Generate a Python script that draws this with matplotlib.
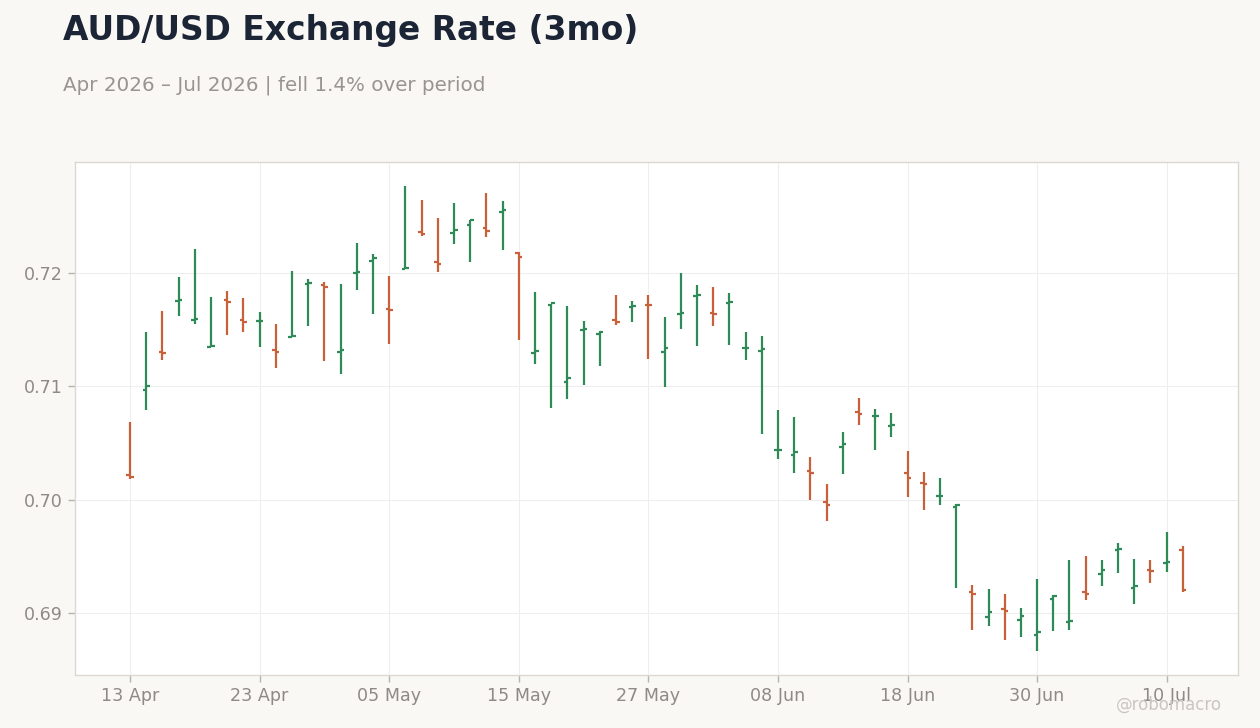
import numpy as np
import pandas as pd
from matplotlib import pyplot as plt

### data (AUD/USD daily OHLC)

dates = pd.bdate_range('2026-04-13', periods=66)

opens = [0.70214, 0.70966, 0.71307, 0.71753, 0.71583, 0.71348, 0.71759, 0.71583, 0.71574, 0.71319,
	0.71433, 0.71903, 0.71891, 0.71307, 0.72003, 0.72103, 0.71680, 0.72036, 0.72358, 0.72094,
	0.72349, 0.72423, 0.72394, 0.72540, 0.72176, 0.71292, 0.71715, 0.71034, 0.71501, 0.71460,
	0.71583, 0.71698, 0.71721, 0.71307, 0.71638, 0.71800, 0.71650, 0.71739, 0.71338, 0.71316,
	0.70436, 0.70395, 0.70254, 0.69982, 0.70466, 0.70776, 0.70736, 0.70652, 0.70236, 0.70147,
	0.70028, 0.69932, 0.69183, 0.68962, 0.69032, 0.68940, 0.68802, 0.69127, 0.68917, 0.69183,
	0.69342, 0.69555, 0.69218, 0.69375, 0.69444, 0.69558]
highs = [0.70687, 0.71480, 0.71668, 0.71968, 0.72214, 0.71791, 0.71844, 0.71783, 0.71659, 0.71554,
	0.72021, 0.71950, 0.71924, 0.71906, 0.72267, 0.72170, 0.71977, 0.72769, 0.72646, 0.72488,
	0.72620, 0.72470, 0.72708, 0.72637, 0.72188, 0.71836, 0.71730, 0.71712, 0.71580, 0.71492,
	0.71809, 0.71756, 0.71809, 0.71615, 0.72003, 0.71897, 0.71880, 0.71827, 0.71483, 0.71448,
	0.70791, 0.70729, 0.70375, 0.70136, 0.70596, 0.70897, 0.70799, 0.70764, 0.70428, 0.70242,
	0.70189, 0.69959, 0.69242, 0.69215, 0.69171, 0.69047, 0.69295, 0.69156, 0.69463, 0.69499,
	0.69463, 0.69614, 0.69472, 0.69463, 0.69711, 0.69587]
lows = [0.70185, 0.70790, 0.71231, 0.71618, 0.71548, 0.71345, 0.71451, 0.71477, 0.71345, 0.71160,
	0.71433, 0.71530, 0.71222, 0.71107, 0.71847, 0.71636, 0.71372, 0.72036, 0.72329, 0.72012,
	0.72258, 0.72100, 0.72320, 0.72206, 0.71413, 0.71201, 0.70808, 0.70887, 0.71016, 0.71178,
	0.71539, 0.71571, 0.71245, 0.70990, 0.71510, 0.71360, 0.71536, 0.71369, 0.71236, 0.70576,
	0.70357, 0.70236, 0.69997, 0.69811, 0.70227, 0.70661, 0.70440, 0.70555, 0.70024, 0.69909,
	0.69953, 0.69218, 0.68852, 0.68882, 0.68764, 0.68785, 0.68661, 0.68844, 0.68852, 0.69118,
	0.69236, 0.69348, 0.69077, 0.69263, 0.69360, 0.69183]
closes = [0.70203, 0.71001, 0.71295, 0.71762, 0.71592, 0.71354, 0.71742, 0.71565, 0.71580, 0.71301,
	0.71442, 0.71912, 0.71874, 0.71319, 0.72012, 0.72129, 0.71670, 0.72040, 0.72344, 0.72082,
	0.72376, 0.72464, 0.72373, 0.72552, 0.72144, 0.71310, 0.71733, 0.71069, 0.71507, 0.71483,
	0.71571, 0.71706, 0.71715, 0.71336, 0.71645, 0.71809, 0.71642, 0.71742, 0.71342, 0.71325,
	0.70440, 0.70416, 0.70236, 0.69953, 0.70487, 0.70758, 0.70740, 0.70661, 0.70192, 0.70139,
	0.70032, 0.69953, 0.69165, 0.69006, 0.69015, 0.68970, 0.68829, 0.69145, 0.68926, 0.69165,
	0.69378, 0.69566, 0.69236, 0.69369, 0.69448, 0.69204]

UP_COLOR = '#2e8b57'
DOWN_COLOR = '#c8603a'
BG = '#f9f8f5'

fig = plt.figure(figsize=(12.6, 7.28), dpi=100, facecolor=BG)
ax = fig.add_axes([0.0595, 0.0728, 0.9230, 0.7047])
ax.set_facecolor('white')

x = np.arange(len(dates))
o = np.array(opens); h = np.array(highs); l = np.array(lows); c = np.array(closes)
colors = [UP_COLOR if c[i] >= o[i] else DOWN_COLOR for i in range(len(x))]

tick = 0.22
ax.vlines(x, l, h, colors=colors, linewidth=1.6, zorder=3)
ax.hlines(o, x - tick, x, colors=colors, linewidth=1.6, zorder=3)
ax.hlines(c, x, x + tick, colors=colors, linewidth=1.6, zorder=3)

ax.set_xlim(-3.4, 68.4)
ax.set_ylim(0.68452, 0.72980)

tick_idx = list(range(0, len(dates), 8))
ax.set_xticks(tick_idx)
ax.set_xticklabels([dates[i].strftime('%d %b') for i in tick_idx])
ax.set_yticks([0.69, 0.70, 0.71, 0.72])
ax.set_yticklabels(['0.69', '0.70', '0.71', '0.72'])

ax.grid(True, color='#eeeeee', linewidth=0.8, zorder=0)
ax.set_axisbelow(True)
for s in ax.spines.values():
	s.set_color('#ddd8d2')
	s.set_linewidth(1.0)
ax.tick_params(colors='#b8b3ad', labelcolor='#8f8a85', labelsize=12.6, length=5, width=1)

fig.text(0.050, 0.958, 'AUD/USD Exchange Rate (3mo)', fontsize=23.7, fontweight='bold', color='#1b2536', va='center')
fig.text(0.050, 0.883, 'Apr 2026 – Jul 2026 | fell 1.4% over period', fontsize=14.3, color='#99948f', va='center')
fig.text(0.970, 0.032, '@robomacro', fontsize=12, color='#c9c6c2', ha='right', va='center')

fig.savefig('out.png', dpi=100, facecolor=BG)
